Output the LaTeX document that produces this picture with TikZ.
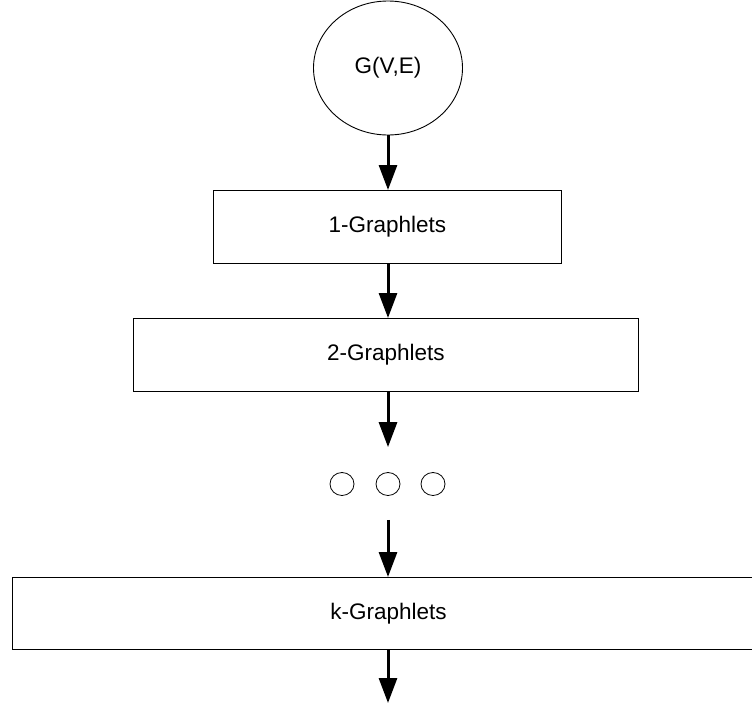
\documentclass[tikz,border=0pt]{standalone}
\usepackage{fontspec}
\setmainfont{Liberation Sans}
\usetikzlibrary{arrows.meta,shapes.geometric}
\begin{document}
\begin{tikzpicture}[x=1pt,y=-1pt,
  lbl/.style={font=\fontsize{22.5}{26}\selectfont},
  box/.style={draw=black,line width=0.9pt,inner sep=0pt,anchor=north west},
  dotc/.style={draw=black,line width=0.8pt,ellipse,minimum width=24pt,minimum height=23pt,inner sep=0pt},
  flow/.style={line width=3pt,-{Triangle[width=18pt,length=25pt]}}
]
\useasboundingbox (0,0) rectangle (752,704);
\clip (0,0) rectangle (752,704);
\node[lbl,draw=black,line width=0.9pt,ellipse,minimum width=149pt,minimum height=134pt,inner sep=0pt] (g) at (388,68) {G(V,E)};
\node[box,minimum width=348pt,minimum height=73pt] (b1) at (213,190) {};
\node[lbl] at (b1.center) {1-Graphlets};
\node[box,minimum width=505pt,minimum height=73pt] (b2) at (133,318) {};
\node[lbl] at (b2.center) {2-Graphlets};
\node[dotc] (d1) at (342,484) {};
\node[dotc] (d2) at (388,484) {};
\node[dotc] (d3) at (433,484) {};
\node[box,minimum width=752pt,minimum height=72pt] (bk) at (12,577) {};
\node[lbl] at (bk.center) {k-Graphlets};
\coordinate (end) at (388,703);
\draw[flow] (g.south) -- (b1.north -| g.south);
\draw[flow] (b1.south -| g.south) -- (b2.north -| g.south);
\draw[flow,shorten >=25pt] (b2.south -| g.south) -- (d2.north);
\draw[flow,shorten <=24pt] (d2.south) -- (bk.north -| g.south);
\draw[flow] (bk.south -| g.south) -- (end);
\end{tikzpicture}
\end{document}
